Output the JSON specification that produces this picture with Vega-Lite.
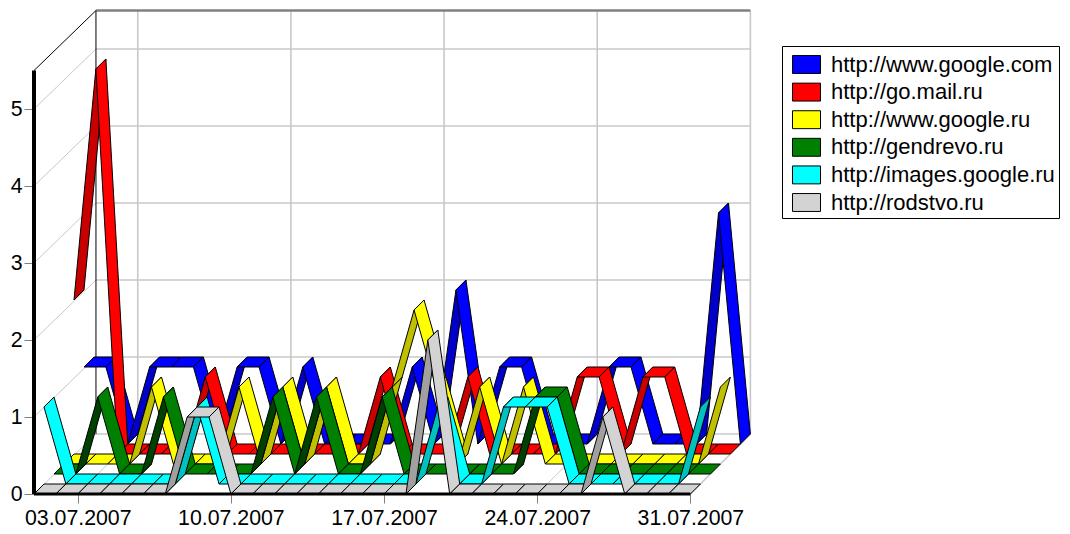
{"$schema":"https://vega.github.io/schema/vega-lite/v6.json","width":717,"height":484,"autosize":"none","padding":{"left":34,"top":10,"right":319,"bottom":40},"background":"white","config":{"view":{"stroke":null},"font":"Liberation Sans"},
"datasets":{"frame":[
{"kind":"g2","id":"h1","day":1.09,"value":1,"depth":6,"o":0},{"kind":"g2","id":"h1","day":31,"value":1,"depth":6,"o":1},
{"kind":"g2","id":"h2","day":1.09,"value":2,"depth":6,"o":0},{"kind":"g2","id":"h2","day":31,"value":2,"depth":6,"o":1},
{"kind":"g2","id":"h3","day":1.09,"value":3,"depth":6,"o":0},{"kind":"g2","id":"h3","day":31,"value":3,"depth":6,"o":1},
{"kind":"g2","id":"h4","day":1.09,"value":4,"depth":6,"o":0},{"kind":"g2","id":"h4","day":31,"value":4,"depth":6,"o":1},
{"kind":"g2","id":"h5","day":1.09,"value":5,"depth":6,"o":0},{"kind":"g2","id":"h5","day":31,"value":5,"depth":6,"o":1},
{"kind":"g2","id":"h0","day":1.09,"value":0,"depth":6,"o":0},{"kind":"g2","id":"h0","day":31,"value":0,"depth":6,"o":1},
{"kind":"g2","id":"v3","day":3,"value":0,"depth":6,"o":0},{"kind":"g2","id":"v3","day":3,"value":5.5,"depth":6,"o":1},
{"kind":"g2","id":"v10","day":10,"value":0,"depth":6,"o":0},{"kind":"g2","id":"v10","day":10,"value":5.5,"depth":6,"o":1},
{"kind":"g2","id":"v17","day":17,"value":0,"depth":6,"o":0},{"kind":"g2","id":"v17","day":17,"value":5.5,"depth":6,"o":1},
{"kind":"g2","id":"v24","day":24,"value":0,"depth":6,"o":0},{"kind":"g2","id":"v24","day":24,"value":5.5,"depth":6,"o":1},
{"kind":"g2","id":"v31","day":31,"value":0,"depth":6,"o":0},{"kind":"g2","id":"v31","day":31,"value":5.5,"depth":6,"o":1},
{"kind":"g2","id":"fr","day":31,"value":0,"depth":0,"o":0},{"kind":"g2","id":"fr","day":31,"value":0,"depth":6,"o":1},
{"kind":"g1","id":"s0","day":1,"value":0,"depth":0,"o":0},{"kind":"g1","id":"s0","day":1.09,"value":0,"depth":6,"o":1},
{"kind":"g1","id":"s1","day":1,"value":1,"depth":0,"o":0},{"kind":"g1","id":"s1","day":1.09,"value":1,"depth":6,"o":1},
{"kind":"g1","id":"s2","day":1,"value":2,"depth":0,"o":0},{"kind":"g1","id":"s2","day":1.09,"value":2,"depth":6,"o":1},
{"kind":"g1","id":"s3","day":1,"value":3,"depth":0,"o":0},{"kind":"g1","id":"s3","day":1.09,"value":3,"depth":6,"o":1},
{"kind":"g1","id":"s4","day":1,"value":4,"depth":0,"o":0},{"kind":"g1","id":"s4","day":1.09,"value":4,"depth":6,"o":1},
{"kind":"g1","id":"s5","day":1,"value":5,"depth":0,"o":0},{"kind":"g1","id":"s5","day":1.09,"value":5,"depth":6,"o":1},
{"kind":"g1","id":"f3","day":3,"value":0,"depth":0,"o":0},{"kind":"g1","id":"f3","day":3,"value":0,"depth":6,"o":1},
{"kind":"g1","id":"f10","day":10,"value":0,"depth":0,"o":0},{"kind":"g1","id":"f10","day":10,"value":0,"depth":6,"o":1},
{"kind":"g1","id":"f17","day":17,"value":0,"depth":0,"o":0},{"kind":"g1","id":"f17","day":17,"value":0,"depth":6,"o":1},
{"kind":"g1","id":"f24","day":24,"value":0,"depth":0,"o":0},{"kind":"g1","id":"f24","day":24,"value":0,"depth":6,"o":1},
{"kind":"top","id":"t","day":1.09,"value":5.5,"depth":6,"o":0},{"kind":"top","id":"t","day":31,"value":5.5,"depth":6,"o":1},
{"kind":"black","id":"bl","day":1,"value":5.5,"depth":0,"o":0},{"kind":"black","id":"bl","day":1.09,"value":5.5,"depth":6,"o":1},{"kind":"black","id":"bl","day":1.09,"value":0,"depth":6,"o":2},
{"kind":"yaxis","id":"ya","day":1,"value":0,"depth":0,"o":0},{"kind":"yaxis","id":"ya","day":1,"value":5.5,"depth":0,"o":1},
{"kind":"xaxis","id":"xa","day":1,"value":0,"depth":0,"o":0},{"kind":"xaxis","id":"xa","day":31,"value":0,"depth":0,"o":1}
],
"series":[
{"series":"http://www.google.com","depth":5,"day":1,"value":1},{"series":"http://www.google.com","depth":5,"day":2,"value":1},{"series":"http://www.google.com","depth":5,"day":3,"value":0},{"series":"http://www.google.com","depth":5,"day":4,"value":1},{"series":"http://www.google.com","depth":5,"day":5,"value":1},{"series":"http://www.google.com","depth":5,"day":6,"value":1},{"series":"http://www.google.com","depth":5,"day":7,"value":0},{"series":"http://www.google.com","depth":5,"day":8,"value":1},{"series":"http://www.google.com","depth":5,"day":9,"value":1},{"series":"http://www.google.com","depth":5,"day":10,"value":0},{"series":"http://www.google.com","depth":5,"day":11,"value":1},{"series":"http://www.google.com","depth":5,"day":12,"value":0},{"series":"http://www.google.com","depth":5,"day":13,"value":0},{"series":"http://www.google.com","depth":5,"day":14,"value":0},{"series":"http://www.google.com","depth":5,"day":15,"value":0},{"series":"http://www.google.com","depth":5,"day":16,"value":1},{"series":"http://www.google.com","depth":5,"day":17,"value":0},{"series":"http://www.google.com","depth":5,"day":18,"value":2},{"series":"http://www.google.com","depth":5,"day":19,"value":0},{"series":"http://www.google.com","depth":5,"day":20,"value":1},{"series":"http://www.google.com","depth":5,"day":21,"value":1},{"series":"http://www.google.com","depth":5,"day":22,"value":0},{"series":"http://www.google.com","depth":5,"day":23,"value":0},{"series":"http://www.google.com","depth":5,"day":24,"value":0},{"series":"http://www.google.com","depth":5,"day":25,"value":1},{"series":"http://www.google.com","depth":5,"day":26,"value":1},{"series":"http://www.google.com","depth":5,"day":27,"value":0},{"series":"http://www.google.com","depth":5,"day":28,"value":0},{"series":"http://www.google.com","depth":5,"day":29,"value":0},{"series":"http://www.google.com","depth":5,"day":30,"value":3},{"series":"http://www.google.com","depth":5,"day":31,"value":0},
{"series":"http://go.mail.ru","depth":4,"day":1,"value":2},{"series":"http://go.mail.ru","depth":4,"day":2,"value":5},{"series":"http://go.mail.ru","depth":4,"day":3,"value":0},{"series":"http://go.mail.ru","depth":4,"day":4,"value":0},{"series":"http://go.mail.ru","depth":4,"day":5,"value":0},{"series":"http://go.mail.ru","depth":4,"day":6,"value":0},{"series":"http://go.mail.ru","depth":4,"day":7,"value":1},{"series":"http://go.mail.ru","depth":4,"day":8,"value":0},{"series":"http://go.mail.ru","depth":4,"day":9,"value":0},{"series":"http://go.mail.ru","depth":4,"day":10,"value":0},{"series":"http://go.mail.ru","depth":4,"day":11,"value":0},{"series":"http://go.mail.ru","depth":4,"day":12,"value":0},{"series":"http://go.mail.ru","depth":4,"day":13,"value":0},{"series":"http://go.mail.ru","depth":4,"day":14,"value":0},{"series":"http://go.mail.ru","depth":4,"day":15,"value":1},{"series":"http://go.mail.ru","depth":4,"day":16,"value":0},{"series":"http://go.mail.ru","depth":4,"day":17,"value":0},{"series":"http://go.mail.ru","depth":4,"day":18,"value":0},{"series":"http://go.mail.ru","depth":4,"day":19,"value":1},{"series":"http://go.mail.ru","depth":4,"day":20,"value":0},{"series":"http://go.mail.ru","depth":4,"day":21,"value":0},{"series":"http://go.mail.ru","depth":4,"day":22,"value":0},{"series":"http://go.mail.ru","depth":4,"day":23,"value":0},{"series":"http://go.mail.ru","depth":4,"day":24,"value":1},{"series":"http://go.mail.ru","depth":4,"day":25,"value":1},{"series":"http://go.mail.ru","depth":4,"day":26,"value":0},{"series":"http://go.mail.ru","depth":4,"day":27,"value":1},{"series":"http://go.mail.ru","depth":4,"day":28,"value":1},{"series":"http://go.mail.ru","depth":4,"day":29,"value":0},{"series":"http://go.mail.ru","depth":4,"day":30,"value":0},{"series":"http://go.mail.ru","depth":4,"day":31,"value":0},
{"series":"http://www.google.ru","depth":3,"day":1,"value":0},{"series":"http://www.google.ru","depth":3,"day":2,"value":0},{"series":"http://www.google.ru","depth":3,"day":3,"value":0},{"series":"http://www.google.ru","depth":3,"day":4,"value":0},{"series":"http://www.google.ru","depth":3,"day":5,"value":1},{"series":"http://www.google.ru","depth":3,"day":6,"value":0},{"series":"http://www.google.ru","depth":3,"day":7,"value":0},{"series":"http://www.google.ru","depth":3,"day":8,"value":0},{"series":"http://www.google.ru","depth":3,"day":9,"value":1},{"series":"http://www.google.ru","depth":3,"day":10,"value":0},{"series":"http://www.google.ru","depth":3,"day":11,"value":1},{"series":"http://www.google.ru","depth":3,"day":12,"value":0},{"series":"http://www.google.ru","depth":3,"day":13,"value":1},{"series":"http://www.google.ru","depth":3,"day":14,"value":0},{"series":"http://www.google.ru","depth":3,"day":15,"value":0},{"series":"http://www.google.ru","depth":3,"day":16,"value":1},{"series":"http://www.google.ru","depth":3,"day":17,"value":2},{"series":"http://www.google.ru","depth":3,"day":18,"value":1},{"series":"http://www.google.ru","depth":3,"day":19,"value":0},{"series":"http://www.google.ru","depth":3,"day":20,"value":1},{"series":"http://www.google.ru","depth":3,"day":21,"value":0},{"series":"http://www.google.ru","depth":3,"day":22,"value":1},{"series":"http://www.google.ru","depth":3,"day":23,"value":0},{"series":"http://www.google.ru","depth":3,"day":24,"value":0},{"series":"http://www.google.ru","depth":3,"day":25,"value":0},{"series":"http://www.google.ru","depth":3,"day":26,"value":0},{"series":"http://www.google.ru","depth":3,"day":27,"value":0},{"series":"http://www.google.ru","depth":3,"day":28,"value":0},{"series":"http://www.google.ru","depth":3,"day":29,"value":0},{"series":"http://www.google.ru","depth":3,"day":30,"value":0},{"series":"http://www.google.ru","depth":3,"day":31,"value":1},
{"series":"http://gendrevo.ru","depth":2,"day":1,"value":0},{"series":"http://gendrevo.ru","depth":2,"day":2,"value":0},{"series":"http://gendrevo.ru","depth":2,"day":3,"value":1},{"series":"http://gendrevo.ru","depth":2,"day":4,"value":0},{"series":"http://gendrevo.ru","depth":2,"day":5,"value":0},{"series":"http://gendrevo.ru","depth":2,"day":6,"value":1},{"series":"http://gendrevo.ru","depth":2,"day":7,"value":0},{"series":"http://gendrevo.ru","depth":2,"day":8,"value":0},{"series":"http://gendrevo.ru","depth":2,"day":9,"value":0},{"series":"http://gendrevo.ru","depth":2,"day":10,"value":0},{"series":"http://gendrevo.ru","depth":2,"day":11,"value":1},{"series":"http://gendrevo.ru","depth":2,"day":12,"value":0},{"series":"http://gendrevo.ru","depth":2,"day":13,"value":1},{"series":"http://gendrevo.ru","depth":2,"day":14,"value":0},{"series":"http://gendrevo.ru","depth":2,"day":15,"value":0},{"series":"http://gendrevo.ru","depth":2,"day":16,"value":1},{"series":"http://gendrevo.ru","depth":2,"day":17,"value":0},{"series":"http://gendrevo.ru","depth":2,"day":18,"value":0},{"series":"http://gendrevo.ru","depth":2,"day":19,"value":0},{"series":"http://gendrevo.ru","depth":2,"day":20,"value":0},{"series":"http://gendrevo.ru","depth":2,"day":21,"value":0},{"series":"http://gendrevo.ru","depth":2,"day":22,"value":0},{"series":"http://gendrevo.ru","depth":2,"day":23,"value":1},{"series":"http://gendrevo.ru","depth":2,"day":24,"value":1},{"series":"http://gendrevo.ru","depth":2,"day":25,"value":0},{"series":"http://gendrevo.ru","depth":2,"day":26,"value":0},{"series":"http://gendrevo.ru","depth":2,"day":27,"value":0},{"series":"http://gendrevo.ru","depth":2,"day":28,"value":0},{"series":"http://gendrevo.ru","depth":2,"day":29,"value":0},{"series":"http://gendrevo.ru","depth":2,"day":30,"value":0},{"series":"http://gendrevo.ru","depth":2,"day":31,"value":0},
{"series":"http://images.google.ru","depth":1,"day":1,"value":1},{"series":"http://images.google.ru","depth":1,"day":2,"value":0},{"series":"http://images.google.ru","depth":1,"day":3,"value":0},{"series":"http://images.google.ru","depth":1,"day":4,"value":0},{"series":"http://images.google.ru","depth":1,"day":5,"value":0},{"series":"http://images.google.ru","depth":1,"day":6,"value":0},{"series":"http://images.google.ru","depth":1,"day":7,"value":0},{"series":"http://images.google.ru","depth":1,"day":8,"value":1},{"series":"http://images.google.ru","depth":1,"day":9,"value":0},{"series":"http://images.google.ru","depth":1,"day":10,"value":0},{"series":"http://images.google.ru","depth":1,"day":11,"value":0},{"series":"http://images.google.ru","depth":1,"day":12,"value":0},{"series":"http://images.google.ru","depth":1,"day":13,"value":0},{"series":"http://images.google.ru","depth":1,"day":14,"value":0},{"series":"http://images.google.ru","depth":1,"day":15,"value":0},{"series":"http://images.google.ru","depth":1,"day":16,"value":0},{"series":"http://images.google.ru","depth":1,"day":17,"value":0},{"series":"http://images.google.ru","depth":1,"day":18,"value":0},{"series":"http://images.google.ru","depth":1,"day":19,"value":1},{"series":"http://images.google.ru","depth":1,"day":20,"value":0},{"series":"http://images.google.ru","depth":1,"day":21,"value":0},{"series":"http://images.google.ru","depth":1,"day":22,"value":1},{"series":"http://images.google.ru","depth":1,"day":23,"value":1},{"series":"http://images.google.ru","depth":1,"day":24,"value":1},{"series":"http://images.google.ru","depth":1,"day":25,"value":0},{"series":"http://images.google.ru","depth":1,"day":26,"value":0},{"series":"http://images.google.ru","depth":1,"day":27,"value":0},{"series":"http://images.google.ru","depth":1,"day":28,"value":0},{"series":"http://images.google.ru","depth":1,"day":29,"value":0},{"series":"http://images.google.ru","depth":1,"day":30,"value":0},{"series":"http://images.google.ru","depth":1,"day":31,"value":1},
{"series":"http://rodstvo.ru","depth":0,"day":1,"value":0},{"series":"http://rodstvo.ru","depth":0,"day":2,"value":0},{"series":"http://rodstvo.ru","depth":0,"day":3,"value":0},{"series":"http://rodstvo.ru","depth":0,"day":4,"value":0},{"series":"http://rodstvo.ru","depth":0,"day":5,"value":0},{"series":"http://rodstvo.ru","depth":0,"day":6,"value":0},{"series":"http://rodstvo.ru","depth":0,"day":7,"value":0},{"series":"http://rodstvo.ru","depth":0,"day":8,"value":1},{"series":"http://rodstvo.ru","depth":0,"day":9,"value":1},{"series":"http://rodstvo.ru","depth":0,"day":10,"value":0},{"series":"http://rodstvo.ru","depth":0,"day":11,"value":0},{"series":"http://rodstvo.ru","depth":0,"day":12,"value":0},{"series":"http://rodstvo.ru","depth":0,"day":13,"value":0},{"series":"http://rodstvo.ru","depth":0,"day":14,"value":0},{"series":"http://rodstvo.ru","depth":0,"day":15,"value":0},{"series":"http://rodstvo.ru","depth":0,"day":16,"value":0},{"series":"http://rodstvo.ru","depth":0,"day":17,"value":0},{"series":"http://rodstvo.ru","depth":0,"day":18,"value":0},{"series":"http://rodstvo.ru","depth":0,"day":19,"value":2},{"series":"http://rodstvo.ru","depth":0,"day":20,"value":0},{"series":"http://rodstvo.ru","depth":0,"day":21,"value":0},{"series":"http://rodstvo.ru","depth":0,"day":22,"value":0},{"series":"http://rodstvo.ru","depth":0,"day":23,"value":0},{"series":"http://rodstvo.ru","depth":0,"day":24,"value":0},{"series":"http://rodstvo.ru","depth":0,"day":25,"value":0},{"series":"http://rodstvo.ru","depth":0,"day":26,"value":0},{"series":"http://rodstvo.ru","depth":0,"day":27,"value":1},{"series":"http://rodstvo.ru","depth":0,"day":28,"value":0},{"series":"http://rodstvo.ru","depth":0,"day":29,"value":0},{"series":"http://rodstvo.ru","depth":0,"day":30,"value":0},{"series":"http://rodstvo.ru","depth":0,"day":31,"value":0}
]},
"encoding":{
"x":{"field":"px","type":"quantitative","title":null,"scale":{"domain":[1,33.77],"nice":false,"zero":false},"axis":{"values":[3,10,17,24,31],"labelExpr":"(datum.value<10?'0':'')+datum.value+'.07.2007'","grid":false,"domain":false,"tickColor":"#808080","tickSize":9,"labelFontSize":21.3,"labelColor":"black","labelPadding":4,"labelFont":"Liberation Sans","labelOverlap":false,"labelFlush":false,"labelBound":false}},
"y":{"field":"py","type":"quantitative","title":null,"scale":{"domain":[0,6.286],"nice":false,"zero":false},"axis":{"values":[0,1,2,3,4,5],"format":"d","grid":false,"domain":false,"tickColor":"#808080","tickSize":10,"labelFontSize":21.3,"labelColor":"black","labelPadding":2,"labelFont":"Liberation Sans","labelFlush":false,"labelBound":false}},
"order":{"field":"o","type":"quantitative"}
},
"layer":[
{"data":{"name":"frame"},"transform":[{"filter":"datum.kind==='g2'"},{"calculate":"datum.day+datum.depth*0.457","as":"px"},{"calculate":"datum.value+datum.depth*0.12987","as":"py"}],"mark":{"type":"line","stroke":"#c8c8c8","strokeWidth":1.6},"encoding":{"detail":{"field":"id"}}},
{"data":{"name":"frame"},"transform":[{"filter":"datum.kind==='g1'"},{"calculate":"datum.day+datum.depth*0.457","as":"px"},{"calculate":"datum.value+datum.depth*0.12987","as":"py"}],"mark":{"type":"line","stroke":"#c8c8c8","strokeWidth":1},"encoding":{"detail":{"field":"id"}}},
{"data":{"name":"frame"},"transform":[{"filter":"datum.kind==='top'"},{"calculate":"datum.day+datum.depth*0.457","as":"px"},{"calculate":"datum.value+datum.depth*0.12987","as":"py"}],"mark":{"type":"line","stroke":"#808080","strokeWidth":2.5},"encoding":{"detail":{"field":"id"}}},
{"data":{"name":"frame"},"transform":[{"filter":"datum.kind==='black'"},{"calculate":"datum.day+datum.depth*0.457","as":"px"},{"calculate":"datum.value+datum.depth*0.12987","as":"py"}],"mark":{"type":"line","stroke":"black","strokeWidth":1},"encoding":{"detail":{"field":"id"}}},
{"data":{"name":"series"},"transform":[
{"window":[{"op":"lead","field":"value","as":"next"}],"sort":[{"field":"day","order":"ascending"}],"groupby":["series"]},
{"filter":"datum.day<31"},
{"calculate":"datum.series+(datum.next>datum.value?' rising':'')","as":"face"},
{"calculate":"datum.series+'|'+datum.day","as":"poly"},
{"calculate":"[0,1,2,3,4]","as":"o"},
{"flatten":["o"]},
{"calculate":"(datum.o==1||datum.o==2)?datum.day+1:datum.day","as":"vday"},
{"calculate":"(datum.o==1||datum.o==2)?datum.next:datum.value","as":"vvalue"},
{"calculate":"(datum.o==2||datum.o==3)?datum.depth+1:datum.depth","as":"vdepth"},
{"calculate":"datum.vday+datum.vdepth*0.457","as":"px"},
{"calculate":"datum.vvalue+datum.vdepth*0.12987","as":"py"}],
"mark":{"type":"line","stroke":"black","strokeWidth":1,"strokeJoin":"miter"},
"encoding":{"detail":{"field":"poly"},"fill":{"field":"face","type":"nominal","scale":{"domain":["http://www.google.com","http://go.mail.ru","http://www.google.ru","http://gendrevo.ru","http://images.google.ru","http://rodstvo.ru","http://www.google.com rising","http://go.mail.ru rising","http://www.google.ru rising","http://gendrevo.ru rising","http://images.google.ru rising","http://rodstvo.ru rising"],"range":["#0000ff","#ff0000","#ffff00","#008000","#00ffff","#d3d3d3","#0000c8","#c80000","#c0c000","#004000","#00c0c0","#a0a0a0"]},
"legend":{"values":["http://www.google.com","http://go.mail.ru","http://www.google.ru","http://gendrevo.ru","http://images.google.ru","http://rodstvo.ru"],"title":null,"orient":"none","legendX":748,"legendY":36,"fillColor":"white","strokeColor":"black","padding":4,"symbolType":"M-1,-0.64H1V0.64H-1Z","symbolSize":784,"symbolStrokeColor":"black","symbolStrokeWidth":1,"symbolOffset":6,"labelOffset":10,"labelFontSize":22,"labelFont":"Liberation Sans","labelColor":"black","labelLimit":400,"rowPadding":1.6,"labelExpr":"datum.label+'\u2003'"}}}},
{"data":{"name":"frame"},"transform":[{"filter":"datum.kind==='yaxis'"},{"calculate":"datum.day+datum.depth*0.457","as":"px"},{"calculate":"datum.value+datum.depth*0.12987","as":"py"}],"mark":{"type":"line","stroke":"black","strokeWidth":4},"encoding":{"detail":{"field":"id"}}},
{"data":{"name":"frame"},"transform":[{"filter":"datum.kind==='xaxis'"},{"calculate":"datum.day+datum.depth*0.457","as":"px"},{"calculate":"datum.value+datum.depth*0.12987","as":"py"}],"mark":{"type":"line","stroke":"black","strokeWidth":3},"encoding":{"detail":{"field":"id"}}}
]}
